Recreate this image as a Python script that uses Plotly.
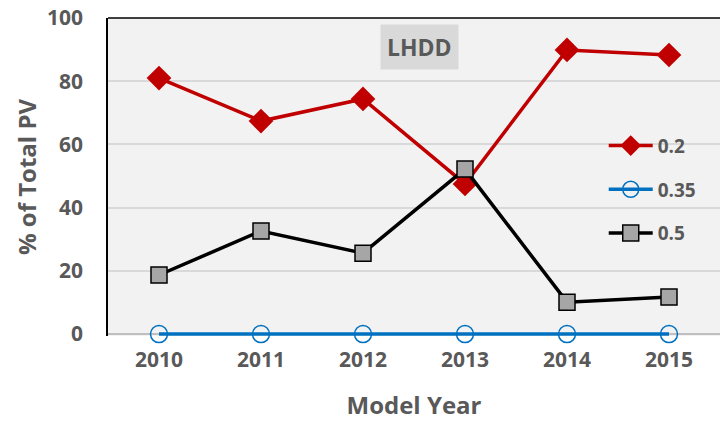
import plotly.graph_objects as go

years = ["2010", "2011", "2012", "2013", "2014", "2015"]
s_02 = [81.0, 67.4, 74.4, 47.5, 89.9, 88.3]
s_035 = [0, 0, 0, 0, 0, 0]
s_05 = [18.7, 32.6, 25.6, 52.2, 10.1, 11.7]
y_ticks = [0, 20, 40, 60, 80, 100]

FONT = "Open Sans"
GRAY = "#595959"

fig = go.Figure()
fig.add_trace(go.Scatter(
    x=years, y=s_02, name="0.2", mode="lines+markers", legendgroup="a",
    line=dict(color="#c00000", width=3.5),
    marker=dict(symbol="diamond", size=19, color="#c00000"),
    cliponaxis=False))
fig.add_trace(go.Scatter(
    x=years, y=s_035, name="0.35", mode="lines+markers", legendgroup="b",
    line=dict(color="#0070c0", width=3.5),
    marker=dict(symbol="circle-open", size=17, color="#0070c0", line=dict(width=1.5)),
    cliponaxis=False))
fig.add_trace(go.Scatter(
    x=years, y=s_05, name="0.5", mode="lines+markers", legendgroup="c",
    line=dict(color="#000000", width=3.5),
    marker=dict(symbol="square", size=16, color="#a6a6a6", line=dict(color="#000000", width=1.5)),
    cliponaxis=False))

fig.update_layout(
    width=720, height=422,
    margin=dict(l=108, r=0, t=18, b=86),
    paper_bgcolor="white", plot_bgcolor="#f2f2f2",
    font=dict(family=FONT, color=GRAY, size=18),
    showlegend=True,
    legend=dict(x=0.81, y=0.46, xanchor="left", yanchor="middle",
                bgcolor="rgba(0,0,0,0)", font=dict(size=19, color=GRAY, family=FONT, weight="bold"),
                traceorder="grouped", tracegroupgap=16, itemwidth=44),
    xaxis=dict(type="category", range=[-0.5, 5.5], showgrid=False, showline=False,
               tickfont=dict(size=21, color=GRAY, family=FONT, weight="bold"),
               ticks="outside", ticklen=5, tickcolor="rgba(0,0,0,0)",
               title=dict(text="Model Year", font=dict(size=24, color=GRAY, family=FONT, weight="bold"),
                          standoff=24)),
    yaxis=dict(range=[-0.6, 100], tickvals=y_ticks, showgrid=True, gridcolor="#d9d9d9", gridwidth=1.5,
               zeroline=True, zerolinecolor="#bfbfbf", zerolinewidth=1.5,
               showline=True, linecolor="#000000", linewidth=1.5,
               tickfont=dict(size=21, color=GRAY, family=FONT, weight="bold"),
               ticks="outside", ticklen=19, tickcolor="rgba(0,0,0,0)",
               title=dict(text="% of Total PV", font=dict(size=24, color=GRAY, family=FONT, weight="bold"),
                          standoff=4)),
    shapes=[dict(type="line", xref="paper", yref="paper", x0=0, x1=1, y0=1, y1=1,
                 line=dict(color="#000000", width=1.5))],
    annotations=[dict(text="<b>LHDD</b>", xref="paper", yref="paper", x=(419 - 108) / 612, y=(334 - 47) / 316,
                      xanchor="center", yanchor="middle",
                      showarrow=False, font=dict(size=23, color=GRAY, family=FONT),
                      bgcolor="#d9d9d9", borderpad=6)],
)

fig.write_html("out.html", config={"displayModeBar": False},
               post_script="document.body.style.margin='0';")
